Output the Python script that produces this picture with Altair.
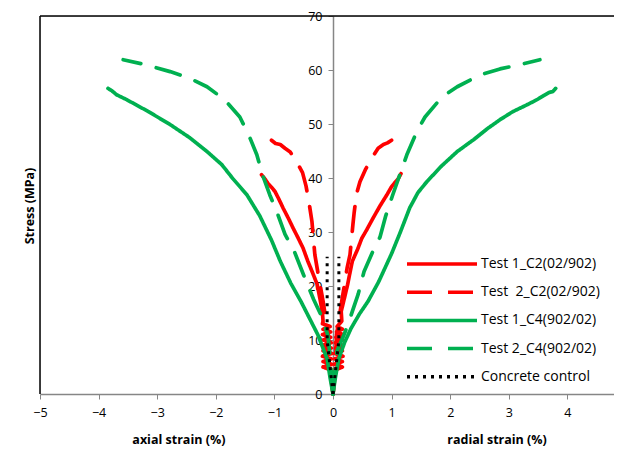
import altair as alt
import pandas as pd

series_names = ["Test 1_C2(02/902)", "Test \u00a02_C2(02/902)", "Test 1_C4(902/02)",
                "Test 2_C4(902/02)", "Concrete control"]
series_colors = ["#FF0000", "#FF0000", "#00B050", "#00B050", "#000000"]
series_dashes = [[1, 0], [25, 16], [1, 0], [25, 16], [3, 5]]

# Test 1_C2 (red solid) - noisy section between about 5 and 14 MPa
t1c2_ax_x = [0, -0.03, -0.05, -0.17, -0.02, -0.17, -0.03, -0.18, -0.02, -0.17, -0.03, -0.18, -0.03,
             -0.17, -0.04, -0.18, -0.04, -0.17, -0.05, -0.18, -0.17, -0.18, -0.22,
             -0.27, -0.35, -0.43, -0.51, -0.60, -0.68, -0.76, -0.85, -0.92, -0.99, -1.05, -1.11, -1.16, -1.22]
t1c2_ax_y = [0, 2.5, 4.5, 5, 5.5, 6, 6.5, 7, 7.5, 8, 8.5, 9, 9.5,
             10, 10.5, 11, 11.5, 12, 12.5, 13, 13.5, 15, 17.5,
             20.3, 22.5, 24.6, 27, 29, 30.7, 32.5, 34.4, 36, 37.5, 38.3, 39, 39.8, 40.6]
t1c2_ra_x = [0, 0.03, 0.05, 0.16, 0.02, 0.16, 0.03, 0.17, 0.03, 0.16, 0.04, 0.17, 0.04, 0.16, 0.05,
             0.17, 0.06, 0.16, 0.07, 0.15, 0.14, 0.20, 0.25,
             0.29, 0.33, 0.42, 0.49, 0.58, 0.68, 0.80, 0.92, 1.00, 1.06, 1.11, 1.16]
t1c2_ra_y = [0, 3, 4.5, 5, 5.5, 6, 6.5, 7, 7.5, 8, 8.5, 9, 9.5, 10, 10.5,
             11, 11.5, 12, 12.5, 13.5, 15.3, 18, 20.3,
             22.5, 24.6, 26.8, 28.8, 30.5, 32.5, 34.8, 36.9, 38.4, 39.2, 39.8, 40.8]

# Test 2_C2 (red dashed)
t2c2_ax_x = [0, -0.03, -0.06, -0.08, -0.17, -0.25, -0.31, -0.36, -0.41, -0.46, -0.52, -0.62, -0.73,
             -0.82, -0.90, -0.98, -1.05]
t2c2_ax_y = [0, 4, 8, 11, 17.2, 22, 25.8, 32, 35.5, 38.5, 41, 43, 44.8, 45.5, 46.2, 46.4, 47]
t2c2_ra_x = [0, 0.03, 0.05, 0.06, 0.15, 0.24, 0.29, 0.34, 0.36, 0.40, 0.46, 0.55, 0.65, 0.77, 0.86,
             0.93, 1.00]
t2c2_ra_y = [0, 4, 8, 11, 17.2, 23.3, 25.8, 31.4, 33.5, 37, 39.3, 41.5, 43.5, 45.5, 46.2, 46.5, 47]

# Test 1_C4 (green solid)
t1c4_ax_x = [0, -0.05, -0.10, -0.26, -0.40, -0.55, -0.72, -0.90, -1.05, -1.25, -1.47, -1.71, -1.90,
             -2.15, -2.45, -2.78, -3.15, -3.52, -3.69, -3.78, -3.84]
t1c4_ax_y = [0, 3, 6.5, 11, 14, 17.2, 20.5, 24.6, 28.5, 33, 36.9, 39.9, 42.5, 44.9, 47.5, 49.9, 52.3,
             54.5, 55.4, 56.2, 56.6]
t1c4_ra_x = [0, 0.04, 0.10, 0.20, 0.31, 0.45, 0.60, 0.78, 1.00, 1.15, 1.31, 1.45, 1.60, 1.85, 2.12,
             2.40, 2.63, 2.85, 3.07, 3.30, 3.48, 3.60, 3.68, 3.75, 3.80]
t1c4_ra_y = [0, 3, 6.6, 9.6, 12.2, 14.8, 17.2, 20.8, 26, 30, 34.5, 37.3, 39.3, 42.2, 44.9, 47.1, 49.1,
             50.8, 52.3, 53.5, 54.5, 55.3, 55.8, 56.0, 56.6]

# Test 2_C4 (green dashed)
t2c4_ax_x = [0, -0.03, -0.06, -0.09, -0.20, -0.33, -0.50, -0.66, -0.82, -0.95, -1.08, -1.20, -1.30,
             -1.42, -1.59, -1.85, -2.15, -2.45, -2.78, -3.20, -3.58]
t2c4_ax_y = [0, 4, 8, 11, 14.5, 17.5, 22, 26.4, 29.6, 33.5, 36.9, 40.5, 44.3, 47.5, 51.3, 54.5, 56.9,
             58.5, 59.7, 61, 61.9]
t2c4_ra_x = [0, 0.03, 0.07, 0.17, 0.26, 0.33, 0.43, 0.53, 0.68, 0.80, 0.90, 1.02, 1.14, 1.26, 1.43,
             1.57, 1.86, 2.12, 2.51, 2.85, 3.19, 3.53]
t2c4_ra_y = [0, 4, 8, 10.5, 13, 15.3, 18.5, 22.7, 26.4, 29, 33, 36.9, 40.6, 44.3, 48.6, 51.3, 55, 56.9,
             59.1, 60.2, 61, 61.9]

# Concrete control (black dotted)
cc_ax_x = [0, -0.02, -0.04, -0.07, -0.10, -0.10]
cc_ax_y = [0, 2, 4, 7, 10, 25.4]
cc_ra_x = [0, 0.02, 0.04, 0.07, 0.10, 0.10]
cc_ra_y = [0, 2, 4, 7, 10, 25.4]

branches = {
    series_names[0]: [(t1c2_ax_x, t1c2_ax_y), (t1c2_ra_x, t1c2_ra_y)],
    series_names[1]: [(t2c2_ax_x, t2c2_ax_y), (t2c2_ra_x, t2c2_ra_y)],
    series_names[2]: [(t1c4_ax_x, t1c4_ax_y), (t1c4_ra_x, t1c4_ra_y)],
    series_names[3]: [(t2c4_ax_x, t2c4_ax_y), (t2c4_ra_x, t2c4_ra_y)],
    series_names[4]: [(cc_ax_x, cc_ax_y), (cc_ra_x, cc_ra_y)],
}

rows = []
for name, brs in branches.items():
    for bi, (xs, ys) in enumerate(brs):
        for i, (xv, yv) in enumerate(zip(xs, ys)):
            rows.append({"series": name, "branch": f"{name}-{bi}", "idx": i, "strain": xv, "stress": yv})
df = pd.DataFrame(rows)

x_ticks = [-5, -4, -3, -2, -1, 0, 1, 2, 3, 4]
y_ticks = [0, 10, 20, 30, 40, 50, 60, 70]

W, H = 574, 378
X_MAX = 4.795
FONT = "Open Sans"
GRAY = "#868686"

x_scale = alt.Scale(domain=[-5, X_MAX], nice=False, zero=False)
y_scale = alt.Scale(domain=[0, 70], nice=False)
x_axis = alt.Axis(values=x_ticks, format="d", tickSize=5, domainColor=GRAY, tickColor=GRAY,
                  labelColor="black", labelFontSize=12.5, labelFont=FONT, labelPadding=7, title=None,
                  grid=False, labelFlush=False, labelOverlap=False, domainWidth=1.5)
y_axis = alt.Axis(values=y_ticks, format="d", tickSize=5, domainColor=GRAY, tickColor=GRAY,
                  labelColor="black", labelFontSize=12.5, labelFont=FONT, labelPadding=6, title=None,
                  grid=False, offset=-293, labelFlush=False, labelOverlap=False, domainWidth=1.5)
color_scale = alt.Scale(domain=series_names, range=series_colors)
dash_scale = alt.Scale(domain=series_names, range=series_dashes)
# stroke symbol drawn as a wide path on a small symbol box so rows stay compact
legend = alt.Legend(orient="none", legendX=393, legendY=239, title=None, symbolType="M-5,0H5",
                    symbolSize=196, symbolStrokeWidth=3.5, labelFontSize=14, labelFont=FONT,
                    rowPadding=12.2, labelOffset=30, labelColor="black", labelLimit=300)

layers = []
for name in series_names:
    cap = "butt" if name == "Concrete control" else "round"
    width = 3 if name == "Concrete control" else 3.7
    layers.append(
        alt.Chart(df).transform_filter(alt.datum.series == name)
        .mark_line(strokeWidth=width, strokeCap=cap, strokeJoin="round")
        .encode(
            x=alt.X("strain:Q", scale=x_scale, axis=x_axis),
            y=alt.Y("stress:Q", scale=y_scale, axis=y_axis),
            color=alt.Color("series:N", scale=color_scale, legend=legend),
            strokeDash=alt.StrokeDash("series:N", scale=dash_scale, legend=legend),
            detail="branch:N",
            order="idx:Q",
        )
    )

one = pd.DataFrame({"a": [0]})
top_rule = alt.Chart(one).mark_rule(color="black", strokeWidth=1.5).encode(
    x=alt.value(0), x2=alt.value(W), y=alt.value(0))
left_rule = alt.Chart(one).mark_rule(color="black", strokeWidth=1.5).encode(
    x=alt.value(0), y=alt.value(0), y2=alt.value(H))

x_titles = pd.DataFrame({"label": ["axial strain (%)", "radial strain (%)"], "pos": [-2.63, 2.8]})
x_title_layer = alt.Chart(x_titles).mark_text(fontWeight="bold", fontSize=12.5, font=FONT, color="black",
                                              baseline="middle", align="center").encode(
    x=alt.X("pos:Q", scale=x_scale), y=alt.value(H + 46), text="label:N")

y_title_layer = alt.Chart(pd.DataFrame({"label": ["Stress (MPa)"]})).mark_text(
    fontWeight="bold", fontSize=12.5, font=FONT, color="black", angle=270,
    baseline="middle", align="center").encode(x=alt.value(-10), y=alt.value(H / 2 + 1), text="label:N")

chart = alt.layer(*layers, top_rule, left_rule, x_title_layer, y_title_layer).properties(
    width=W, height=H,
    autosize=alt.AutoSizeParams(type="none"),
    padding={"left": 32, "top": 8, "right": 0, "bottom": 54},
).configure_view(stroke=None).configure(background="white")

chart.save("out.html", embed_options={"renderer": "svg", "actions": False})
